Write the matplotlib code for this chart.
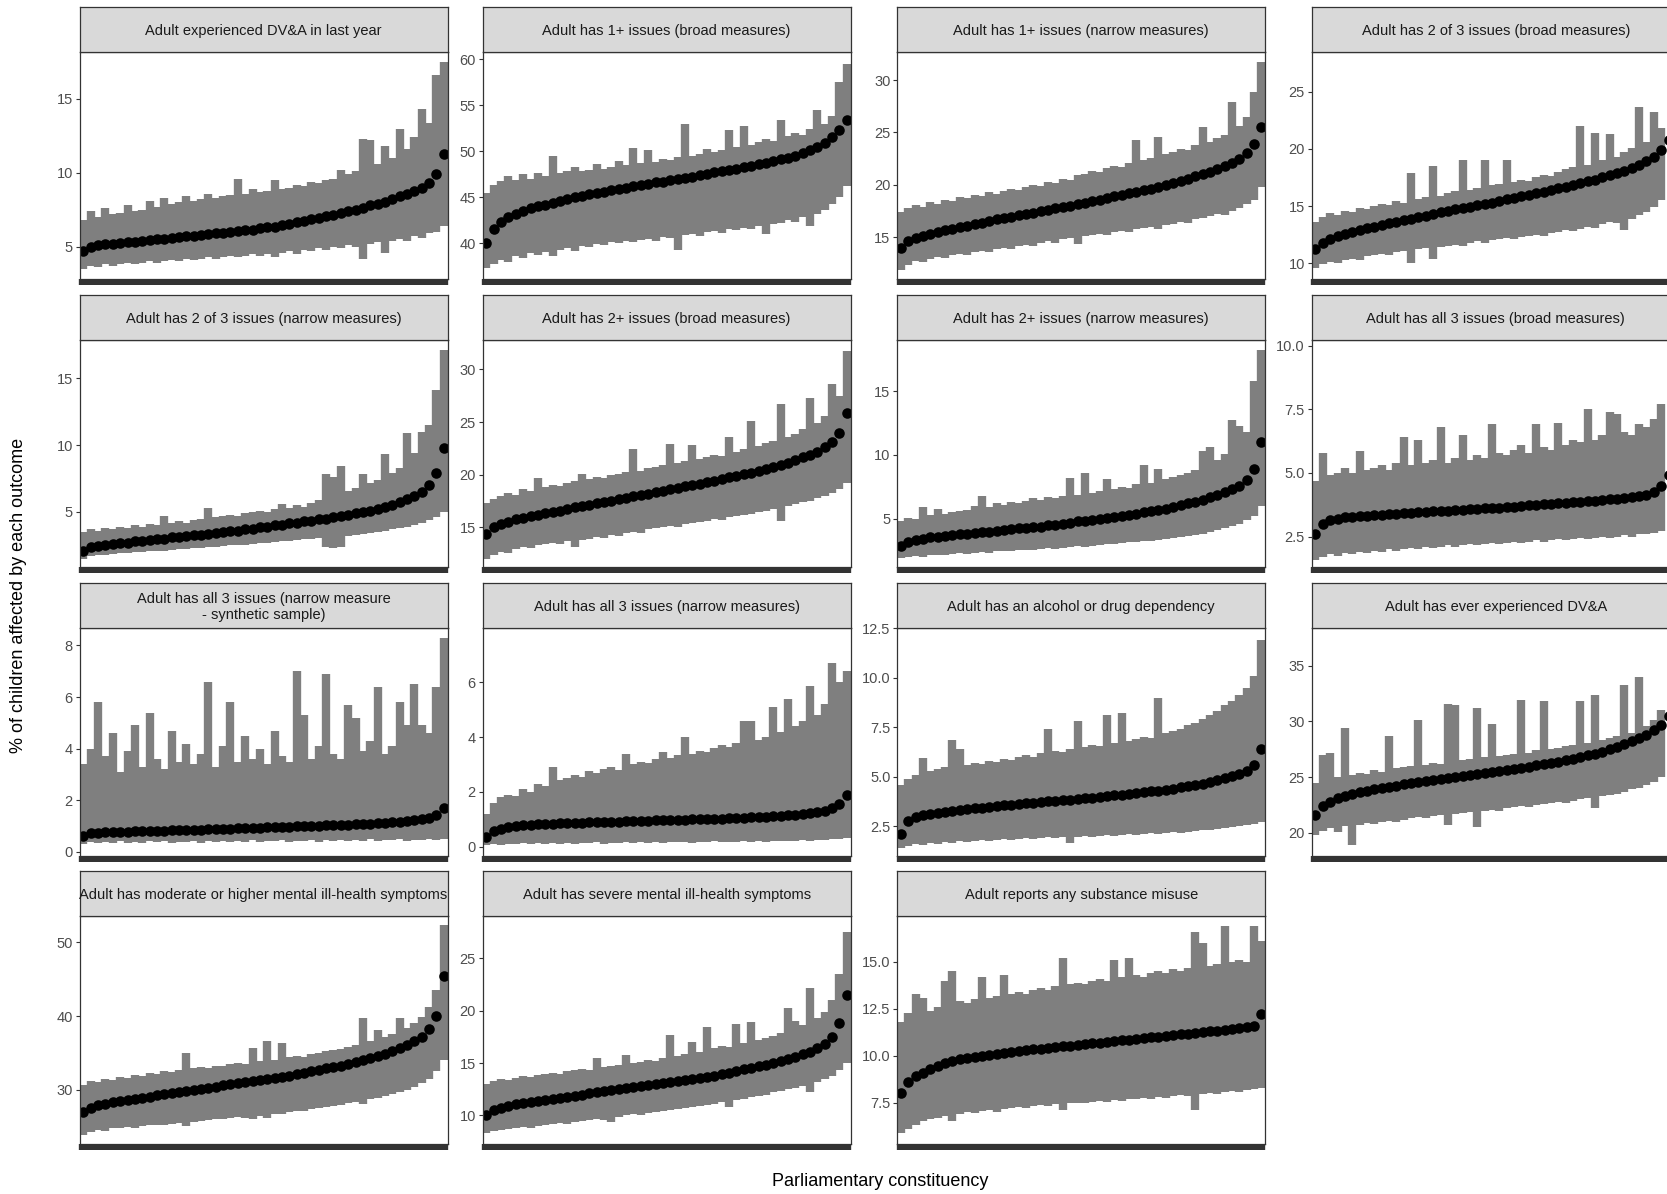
import matplotlib
matplotlib.use("Agg")
import matplotlib.pyplot as plt
import numpy as np

plt.rcParams['font.family'] = ['Liberation Sans', 'DejaVu Sans']

# Constituency estimates sorted low -> high, with lower/upper interval ends.
# 50 constituencies per outcome.
titles = [
    "Adult experienced DV&A in last year",
    "Adult has 1+ issues (broad measures)",
    "Adult has 1+ issues (narrow measures)",
    "Adult has 2 of 3 issues (broad measures)",
    "Adult has 2 of 3 issues (narrow measures)",
    "Adult has 2+ issues (broad measures)",
    "Adult has 2+ issues (narrow measures)",
    "Adult has all 3 issues (broad measures)",
    "Adult has all 3 issues (narrow measure\n- synthetic sample)",
    "Adult has all 3 issues (narrow measures)",
    "Adult has an alcohol or drug dependency",
    "Adult has ever experienced DV&A",
    "Adult has moderate or higher mental ill-health symptoms",
    "Adult has severe mental ill-health symptoms",
    "Adult reports any substance misuse",
]

est_dva_year = [4.7, 5.0, 5.1, 5.15, 5.2, 5.25, 5.3, 5.35, 5.4, 5.45, 5.5, 5.55, 5.6, 5.65, 5.7, 5.75, 5.8, 5.85, 5.9, 5.95,
                6.0, 6.05, 6.1, 6.15, 6.25, 6.3, 6.35, 6.45, 6.55, 6.65, 6.75, 6.85, 6.95, 7.05, 7.15, 7.25, 7.4, 7.5, 7.65, 7.8,
                7.9, 8.05, 8.2, 8.4, 8.55, 8.75, 9.0, 9.3, 9.9, 11.3]
lo_dva_year = [3.5, 3.7, 3.6, 3.8, 3.7, 3.8, 3.9, 3.8, 3.9, 4.0, 3.9, 4.0, 4.1, 4.0, 4.2, 4.1, 4.2, 4.3, 4.2, 4.3,
               4.4, 4.3, 4.4, 4.5, 4.4, 4.5, 4.3, 4.6, 4.7, 4.5, 4.8, 4.7, 4.9, 4.8, 5.0, 4.9, 5.1, 5.0, 4.2, 5.2,
               5.3, 4.6, 5.4, 5.5, 5.4, 5.7, 5.6, 5.9, 6.0, 6.4]
hi_dva_year = [6.8, 7.4, 7.0, 7.6, 7.2, 7.3, 7.8, 7.4, 7.5, 8.1, 7.7, 8.3, 7.9, 8.0, 8.4, 8.1, 8.2, 8.6, 8.3, 8.4,
               8.5, 9.6, 8.6, 8.9, 8.7, 8.8, 9.5, 8.9, 9.0, 9.2, 9.1, 9.4, 9.3, 9.5, 9.6, 10.2, 9.9, 10.1, 12.3, 12.2,
               10.6, 11.8, 11.0, 13.0, 11.6, 12.4, 14.3, 13.4, 16.6, 17.5]

est_any_broad = [40.0, 41.6, 42.3, 42.8, 43.2, 43.5, 43.8, 44.0, 44.2, 44.4, 44.6, 44.8, 45.0, 45.15, 45.3, 45.45, 45.6, 45.75, 45.9, 46.05,
                 46.2, 46.3, 46.45, 46.6, 46.7, 46.85, 47.0, 47.1, 47.25, 47.4, 47.55, 47.7, 47.8, 47.95, 48.1, 48.25, 48.4, 48.6, 48.75, 48.9,
                 49.1, 49.3, 49.5, 49.8, 50.1, 50.5, 50.9, 51.5, 52.3, 53.4]
lo_any_broad = [37.3, 37.8, 38.2, 38.0, 38.6, 38.4, 38.9, 38.7, 39.1, 38.6, 39.3, 39.5, 39.2, 39.7, 39.6, 39.9, 39.8, 40.1, 40.0, 40.3,
                40.1, 40.4, 40.5, 40.3, 40.7, 40.6, 39.3, 40.9, 41.0, 40.8, 41.2, 41.3, 41.1, 41.5, 41.4, 41.7, 41.6, 41.9, 41.0, 42.1,
                42.2, 42.5, 42.3, 42.8, 41.9, 43.2, 43.6, 44.3, 45.0, 46.2]
hi_any_broad = [45.5, 46.3, 46.8, 47.3, 46.9, 47.5, 47.0, 47.6, 47.3, 49.5, 47.6, 47.8, 48.3, 47.9, 48.0, 48.6, 48.1, 48.3, 48.9, 48.5,
                50.3, 48.7, 50.1, 48.8, 49.2, 49.0, 49.4, 52.9, 49.5, 49.7, 50.2, 49.9, 50.1, 52.3, 50.4, 52.7, 50.7, 51.0, 51.3, 51.1,
                53.4, 51.6, 52.0, 51.8, 52.4, 54.5, 53.0, 53.8, 57.5, 59.5]

est_any_narrow = [14.0, 14.6, 14.9, 15.1, 15.3, 15.5, 15.65, 15.8, 15.95, 16.1, 16.25, 16.4, 16.55, 16.7, 16.8, 16.95, 17.1, 17.2, 17.35, 17.5,
                  17.6, 17.75, 17.9, 18.0, 18.15, 18.3, 18.45, 18.6, 18.75, 18.9, 19.05, 19.2, 19.35, 19.5, 19.65, 19.8, 20.0, 20.2, 20.4, 20.6,
                  20.8, 21.0, 21.2, 21.5, 21.8, 22.1, 22.5, 23.0, 23.9, 25.5]
lo_any_narrow = [11.9, 12.4, 12.7, 12.6, 12.9, 13.1, 13.0, 13.3, 13.4, 13.3, 13.6, 13.7, 13.6, 13.9, 14.0, 13.9, 14.2, 14.3, 14.2, 14.5,
                 14.6, 14.5, 14.8, 14.9, 14.4, 15.1, 15.2, 15.3, 15.2, 15.5, 15.6, 15.5, 15.8, 15.9, 16.0, 15.8, 16.2, 16.3, 16.5, 16.4,
                 16.7, 16.8, 17.0, 17.2, 17.1, 17.5, 17.8, 18.2, 18.6, 19.8]
hi_any_narrow = [17.4, 17.8, 18.1, 17.9, 18.4, 18.2, 18.6, 18.5, 18.8, 18.7, 19.0, 18.9, 19.3, 19.1, 19.4, 19.6, 19.5, 19.8, 20.0, 19.9,
                 20.3, 20.2, 20.6, 20.5, 20.9, 21.0, 21.3, 21.2, 21.6, 21.8, 21.7, 22.1, 24.3, 22.4, 22.6, 24.6, 22.9, 23.1, 23.4, 23.3,
                 23.8, 25.5, 24.1, 24.5, 24.8, 27.9, 25.6, 26.5, 28.9, 31.7]

est_two3_broad = [11.2, 11.8, 12.1, 12.35, 12.55, 12.75, 12.9, 13.05, 13.2, 13.35, 13.5, 13.6, 13.75, 13.9, 14.05, 14.15, 14.3, 14.45, 14.55, 14.7,
                  14.8, 14.95, 15.05, 15.2, 15.3, 15.45, 15.6, 15.7, 15.85, 16.0, 16.1, 16.25, 16.4, 16.55, 16.7, 16.85, 17.0, 17.15, 17.3, 17.5,
                  17.7, 17.9, 18.1, 18.35, 18.6, 18.9, 19.3, 19.9, 20.8, 22.5]
lo_two3_broad = [9.6, 9.9, 10.1, 10.0, 10.3, 10.4, 10.3, 10.6, 10.7, 10.8, 10.7, 11.0, 11.1, 10.0, 11.2, 11.3, 10.4, 11.4, 11.5, 11.6,
                 11.5, 11.8, 11.9, 11.8, 12.0, 12.1, 12.2, 12.1, 12.3, 12.4, 12.5, 12.4, 12.6, 12.7, 12.9, 12.8, 13.0, 13.2, 13.1, 13.4,
                 13.6, 13.5, 12.9, 13.9, 14.2, 14.5, 14.9, 15.5, 16.5, 18.0]
hi_two3_broad = [13.6, 14.0, 14.4, 14.2, 14.6, 14.5, 14.8, 14.7, 15.0, 15.2, 15.1, 15.4, 15.3, 17.9, 15.6, 15.8, 18.5, 15.9, 16.1, 16.3,
                 19.0, 16.4, 16.6, 19.0, 16.8, 16.9, 19.0, 17.1, 17.3, 17.2, 17.5, 17.7, 17.6, 18.0, 18.2, 18.4, 22.0, 18.6, 21.4, 19.0,
                 21.3, 19.3, 19.7, 20.1, 23.7, 20.6, 23.2, 21.8, 23.5, 25.5]

est_two3_narrow = [2.1, 2.35, 2.45, 2.55, 2.6, 2.65, 2.7, 2.8, 2.85, 2.9, 2.95, 3.0, 3.1, 3.15, 3.2, 3.25, 3.3, 3.35, 3.45, 3.5,
                   3.55, 3.6, 3.7, 3.75, 3.85, 3.9, 4.0, 4.05, 4.15, 4.2, 4.3, 4.35, 4.45, 4.5, 4.6, 4.7, 4.8, 4.9, 5.0, 5.1,
                   5.25, 5.4, 5.55, 5.75, 5.95, 6.2, 6.5, 7.0, 7.9, 9.8]
lo_two3_narrow = [1.5, 1.7, 1.75, 1.8, 1.85, 1.9, 1.95, 2.0, 2.0, 2.05, 2.1, 2.1, 2.15, 2.2, 2.25, 2.3, 2.3, 2.35, 2.4, 2.45,
                  2.5, 2.5, 2.55, 2.6, 2.65, 2.7, 2.75, 2.8, 2.85, 2.9, 2.95, 3.0, 3.05, 2.4, 2.3, 2.4, 3.2, 3.3, 3.35, 3.4,
                  3.5, 3.6, 3.7, 3.8, 3.9, 4.0, 4.2, 4.4, 4.6, 5.0]
hi_two3_narrow = [3.5, 3.7, 3.6, 3.8, 3.7, 3.9, 3.8, 4.0, 3.9, 4.1, 4.0, 4.7, 4.2, 4.3, 4.2, 4.4, 4.5, 5.3, 4.6, 4.7,
                  4.8, 4.7, 4.9, 5.0, 5.1, 5.0, 5.2, 5.6, 5.3, 5.5, 5.4, 5.7, 5.9, 7.8, 7.6, 8.4, 6.6, 6.8, 7.8, 7.2,
                  7.4, 9.3, 7.9, 8.3, 10.9, 9.4, 11.0, 11.5, 14.1, 17.1]

est_twop_broad = [14.4, 15.0, 15.3, 15.55, 15.75, 15.9, 16.05, 16.2, 16.35, 16.5, 16.6, 16.75, 16.9, 17.0, 17.15, 17.3, 17.4, 17.55, 17.7, 17.8,
                  17.95, 18.1, 18.2, 18.35, 18.5, 18.6, 18.75, 18.9, 19.0, 19.15, 19.3, 19.45, 19.6, 19.75, 19.9, 20.05, 20.2, 20.4, 20.55, 20.75,
                  20.95, 21.15, 21.4, 21.65, 21.9, 22.2, 22.6, 23.1, 24.0, 25.9]
lo_twop_broad = [12.0, 12.4, 12.7, 12.6, 12.9, 13.1, 13.0, 13.3, 13.4, 13.5, 13.4, 13.7, 13.1, 13.8, 13.9, 14.1, 14.0, 14.3, 14.2, 14.5,
                 14.6, 14.5, 14.8, 14.9, 15.0, 15.1, 15.0, 15.3, 15.4, 15.5, 15.6, 15.8, 15.7, 16.0, 16.1, 16.2, 16.3, 16.5, 16.6, 16.7,
                 15.6, 17.0, 17.2, 17.4, 17.5, 17.8, 18.0, 18.3, 18.6, 19.2]
hi_twop_broad = [17.3, 17.7, 18.0, 18.3, 18.1, 18.6, 18.5, 19.7, 18.8, 19.0, 18.9, 19.2, 19.4, 20.1, 19.6, 19.8, 19.7, 20.0, 20.1, 20.3,
                 22.4, 20.4, 20.6, 20.7, 20.9, 22.9, 21.1, 21.3, 22.8, 21.5, 21.7, 21.9, 21.8, 23.6, 22.2, 22.4, 25.1, 22.7, 23.0, 23.2,
                 26.7, 23.6, 23.9, 24.3, 27.3, 24.9, 25.6, 28.6, 27.5, 31.7]

est_twop_narrow = [2.9, 3.2, 3.35, 3.45, 3.55, 3.6, 3.65, 3.7, 3.8, 3.85, 3.9, 3.95, 4.0, 4.05, 4.15, 4.2, 4.25, 4.3, 4.35, 4.4,
                   4.5, 4.55, 4.6, 4.7, 4.8, 4.85, 4.9, 5.0, 5.05, 5.15, 5.2, 5.3, 5.4, 5.5, 5.6, 5.7, 5.8, 5.9, 6.05, 6.2,
                   6.35, 6.5, 6.7, 6.9, 7.1, 7.3, 7.6, 8.0, 8.9, 11.0]
lo_twop_narrow = [1.9, 2.0, 2.1, 2.05, 2.15, 2.2, 2.15, 2.25, 2.3, 2.25, 2.35, 2.4, 2.35, 2.45, 2.5, 2.45, 2.55, 2.6, 2.55, 2.65,
                  2.7, 2.65, 2.75, 2.8, 2.85, 2.8, 2.9, 2.95, 3.0, 3.05, 3.1, 3.15, 3.2, 3.25, 3.3, 3.35, 3.45, 3.5, 3.6, 3.65,
                  3.75, 3.85, 4.0, 4.1, 4.3, 4.45, 4.6, 4.9, 5.2, 6.0]
hi_twop_narrow = [4.8, 5.1, 5.0, 5.9, 5.3, 5.8, 5.4, 5.5, 5.6, 5.7, 6.0, 6.8, 5.9, 6.2, 6.1, 6.3, 6.2, 6.4, 6.6, 6.5,
                  6.7, 6.6, 6.8, 8.2, 6.9, 8.6, 7.0, 7.2, 8.1, 7.3, 7.5, 7.4, 7.7, 9.2, 7.8, 8.9, 8.1, 8.3, 8.4, 8.6,
                  8.8, 10.3, 10.6, 9.6, 10.1, 12.7, 12.3, 11.8, 15.8, 18.2]

est_all3_broad = [2.6, 3.0, 3.15, 3.2, 3.25, 3.28, 3.3, 3.32, 3.34, 3.36, 3.38, 3.4, 3.42, 3.44, 3.46, 3.48, 3.5, 3.51, 3.52, 3.54,
                  3.56, 3.58, 3.6, 3.61, 3.62, 3.64, 3.66, 3.68, 3.7, 3.72, 3.74, 3.76, 3.78, 3.8, 3.82, 3.84, 3.86, 3.88, 3.9, 3.93,
                  3.96, 3.99, 4.02, 4.06, 4.1, 4.15, 4.25, 4.5, 4.9, 5.6]
lo_all3_broad = [1.6, 1.7, 1.8, 1.75, 1.85, 1.8, 1.9, 1.85, 1.95, 1.9, 2.0, 1.95, 2.0, 2.05, 2.0, 2.1, 2.05, 2.1, 2.15, 2.1,
                 2.15, 2.2, 2.15, 2.2, 2.25, 2.2, 2.25, 2.3, 2.25, 2.3, 2.35, 2.3, 2.35, 2.4, 2.35, 2.4, 2.45, 2.4, 2.45, 2.5,
                 2.45, 2.5, 2.55, 2.5, 2.6, 2.6, 2.65, 2.7, 2.8, 3.0]
hi_all3_broad = [4.7, 5.8, 4.9, 5.0, 5.2, 5.0, 5.85, 5.1, 5.2, 5.3, 5.1, 5.4, 6.4, 5.3, 6.3, 5.4, 5.5, 6.8, 5.4, 5.6,
                 6.5, 5.5, 5.7, 5.6, 6.9, 5.8, 5.7, 5.9, 6.1, 5.8, 6.9, 6.0, 5.9, 6.95, 6.1, 6.3, 6.2, 7.5, 6.3, 6.5,
                 7.4, 7.3, 6.6, 6.5, 6.9, 6.8, 7.1, 7.7, 7.3, 8.2]

est_all3_synth = [0.6, 0.72, 0.75, 0.76, 0.77, 0.78, 0.79, 0.8, 0.8, 0.81, 0.82, 0.83, 0.84, 0.85, 0.85, 0.86, 0.87, 0.88, 0.89, 0.9,
                  0.9, 0.91, 0.92, 0.93, 0.94, 0.95, 0.96, 0.97, 0.98, 0.99, 1.0, 1.01, 1.02, 1.03, 1.04, 1.05, 1.06, 1.07, 1.08, 1.1,
                  1.11, 1.13, 1.15, 1.17, 1.19, 1.22, 1.26, 1.32, 1.42, 1.7]
lo_all3_synth = [0.3, 0.38, 0.33, 0.4, 0.35, 0.42, 0.36, 0.4, 0.34, 0.41, 0.37, 0.43, 0.35, 0.4, 0.38, 0.44, 0.36, 0.41, 0.39, 0.43,
                 0.37, 0.42, 0.4, 0.45, 0.38, 0.43, 0.41, 0.46, 0.39, 0.44, 0.42, 0.47, 0.4, 0.45, 0.43, 0.48, 0.41, 0.46, 0.44, 0.49,
                 0.42, 0.47, 0.45, 0.5, 0.44, 0.48, 0.46, 0.5, 0.47, 0.52]
hi_all3_synth = [3.4, 4.0, 5.8, 3.7, 4.6, 3.1, 3.9, 4.9, 3.3, 5.4, 3.6, 3.2, 4.7, 3.5, 4.2, 3.4, 3.8, 6.6, 3.3, 4.1,
                 5.8, 3.5, 4.5, 3.6, 4.0, 3.4, 4.7, 3.7, 3.5, 7.0, 5.3, 3.6, 4.1, 6.9, 3.8, 3.6, 5.7, 5.2, 3.9, 4.3,
                 6.4, 3.8, 4.1, 5.8, 4.9, 6.5, 4.9, 4.6, 6.4, 8.3]

est_all3_narrow = [0.35, 0.58, 0.66, 0.72, 0.75, 0.78, 0.8, 0.82, 0.83, 0.84, 0.85, 0.86, 0.87, 0.88, 0.89, 0.9, 0.9, 0.91, 0.92, 0.93,
                   0.93, 0.94, 0.95, 0.96, 0.96, 0.97, 0.98, 0.99, 1.0, 1.0, 1.01, 1.02, 1.03, 1.04, 1.05, 1.06, 1.07, 1.08, 1.1, 1.11,
                   1.13, 1.15, 1.17, 1.2, 1.23, 1.27, 1.32, 1.4, 1.55, 1.9]
lo_all3_narrow = [0.05, 0.1, 0.08, 0.12, 0.1, 0.14, 0.11, 0.13, 0.1, 0.15, 0.12, 0.14, 0.11, 0.15, 0.13, 0.16, 0.12, 0.15, 0.14, 0.17,
                  0.13, 0.16, 0.15, 0.18, 0.14, 0.17, 0.16, 0.19, 0.15, 0.18, 0.17, 0.2, 0.16, 0.19, 0.18, 0.2, 0.17, 0.21, 0.19, 0.22,
                  0.2, 0.23, 0.21, 0.24, 0.22, 0.25, 0.24, 0.27, 0.28, 0.32]
hi_all3_narrow = [1.2, 1.6, 1.8, 1.9, 1.85, 2.1, 2.0, 2.3, 2.2, 2.9, 2.45, 2.5, 2.6, 2.55, 2.75, 2.7, 2.85, 2.9, 2.8, 3.4,
                  3.0, 3.1, 3.05, 3.2, 3.45, 3.25, 3.35, 4.0, 3.4, 3.5, 3.45, 3.6, 3.7, 3.65, 3.8, 4.6, 4.6, 3.9, 4.0, 5.1,
                  4.2, 5.4, 4.4, 4.6, 5.85, 4.8, 5.2, 6.7, 6.0, 6.4]

est_alc_drug = [2.1, 2.75, 2.95, 3.05, 3.12, 3.18, 3.23, 3.28, 3.32, 3.36, 3.4, 3.44, 3.48, 3.51, 3.55, 3.58, 3.62, 3.65, 3.68, 3.72,
                3.75, 3.78, 3.82, 3.85, 3.88, 3.92, 3.95, 3.99, 4.02, 4.06, 4.1, 4.14, 4.18, 4.22, 4.26, 4.3, 4.35, 4.4, 4.46, 4.52,
                4.58, 4.65, 4.73, 4.82, 4.92, 5.03, 5.15, 5.3, 5.6, 6.4]
lo_alc_drug = [1.4, 1.5, 1.6, 1.55, 1.65, 1.6, 1.7, 1.65, 1.75, 1.7, 1.75, 1.8, 1.75, 1.8, 1.85, 1.8, 1.85, 1.9, 1.85, 1.9,
               1.95, 1.9, 1.95, 1.65, 1.95, 2.0, 1.95, 2.0, 2.05, 2.0, 2.05, 2.1, 2.05, 2.1, 2.15, 2.1, 2.15, 2.2, 2.15, 2.2,
               2.25, 2.3, 2.3, 2.35, 2.4, 2.45, 2.5, 2.55, 2.6, 2.7]
hi_alc_drug = [4.6, 4.9, 5.1, 5.95, 5.3, 5.4, 5.5, 6.87, 6.4, 5.6, 5.7, 5.65, 5.8, 5.75, 5.9, 5.85, 6.0, 6.1, 6.0, 6.2,
               7.4, 6.3, 6.25, 6.4, 7.8, 6.5, 6.6, 6.55, 8.1, 6.7, 8.2, 6.8, 6.9, 7.0, 6.95, 8.97, 7.2, 7.3, 7.4, 7.6,
               7.7, 7.9, 8.1, 8.3, 8.6, 8.8, 9.1, 9.5, 10.1, 11.9]

est_dva_ever = [21.6, 22.4, 22.8, 23.1, 23.3, 23.5, 23.65, 23.8, 23.95, 24.05, 24.15, 24.25, 24.35, 24.45, 24.55, 24.65, 24.75, 24.85, 24.9, 25.0,
                25.1, 25.2, 25.3, 25.4, 25.45, 25.55, 25.65, 25.75, 25.85, 25.95, 26.05, 26.15, 26.3, 26.4, 26.5, 26.65, 26.8, 26.95, 27.1, 27.3,
                27.5, 27.7, 27.95, 28.2, 28.5, 28.8, 29.2, 29.7, 30.5, 32.0]
lo_dva_ever = [19.8, 20.2, 20.4, 20.1, 20.6, 18.9, 20.7, 20.9, 20.8, 21.0, 21.1, 21.0, 21.2, 21.3, 21.4, 21.3, 21.5, 21.6, 20.7, 21.7,
               21.8, 21.9, 20.5, 22.0, 22.1, 22.0, 22.2, 22.3, 22.4, 22.3, 22.5, 22.6, 22.7, 22.8, 22.7, 22.9, 23.0, 23.1, 22.2, 23.3,
               23.4, 23.5, 23.7, 23.9, 24.0, 24.3, 24.6, 25.0, 25.5, 26.5]
hi_dva_ever = [24.5, 27.0, 27.2, 25.0, 29.4, 25.2, 25.4, 25.3, 25.6, 25.5, 28.7, 25.8, 25.9, 26.0, 30.1, 26.1, 26.3, 26.2, 31.6, 31.5,
               26.5, 26.6, 31.2, 26.8, 29.8, 26.9, 27.0, 27.1, 31.9, 27.2, 27.4, 31.8, 27.5, 27.6, 27.8, 27.9, 31.8, 28.1, 32.4, 28.3,
               28.5, 28.7, 33.3, 29.0, 34.0, 29.6, 30.1, 31.0, 33.3, 35.5]

est_mh_moderate = [27.0, 27.6, 27.9, 28.1, 28.3, 28.5, 28.65, 28.8, 28.95, 29.1, 29.25, 29.4, 29.55, 29.7, 29.85, 30.0, 30.15, 30.3, 30.45, 30.6,
                   30.75, 30.9, 31.05, 31.2, 31.3, 31.45, 31.6, 31.75, 31.9, 32.1, 32.3, 32.5, 32.7, 32.9, 33.1, 33.3, 33.5, 33.75, 34.0, 34.3,
                   34.6, 34.9, 35.3, 35.7, 36.1, 36.6, 37.2, 38.2, 40.0, 45.4]
lo_mh_moderate = [23.9, 24.3, 24.6, 24.5, 24.8, 24.9, 25.0, 24.9, 25.1, 25.2, 25.3, 25.2, 25.4, 25.5, 25.1, 25.7, 25.8, 25.9, 26.0, 26.1,
                  26.2, 26.3, 26.2, 26.0, 26.5, 26.2, 26.7, 26.8, 27.0, 27.1, 27.2, 27.4, 27.5, 27.7, 27.8, 28.0, 28.2, 28.3, 28.1, 28.7,
                  28.9, 29.2, 29.4, 29.7, 30.0, 30.4, 30.9, 31.5, 32.5, 34.0]
hi_mh_moderate = [30.6, 31.2, 31.0, 31.5, 31.3, 31.8, 31.6, 32.0, 31.9, 32.3, 32.1, 32.5, 32.4, 32.7, 35.0, 32.9, 33.1, 33.0, 33.3, 33.2,
                  33.5, 33.6, 33.5, 35.7, 33.9, 36.6, 34.1, 36.4, 34.4, 34.6, 34.5, 34.8, 35.0, 35.2, 35.4, 35.6, 35.8, 36.1, 39.7, 36.6,
                  38.1, 37.2, 37.6, 39.7, 38.4, 39.0, 39.8, 41.2, 43.5, 52.3]

est_mh_severe = [10.0, 10.5, 10.75, 10.9, 11.05, 11.2, 11.3, 11.4, 11.5, 11.6, 11.7, 11.8, 11.9, 12.0, 12.1, 12.2, 12.3, 12.4, 12.5, 12.6,
                 12.7, 12.8, 12.9, 13.0, 13.1, 13.2, 13.3, 13.4, 13.5, 13.6, 13.7, 13.8, 13.95, 14.1, 14.25, 14.4, 14.55, 14.7, 14.85, 15.0,
                 15.2, 15.4, 15.6, 15.85, 16.1, 16.4, 16.8, 17.5, 18.8, 21.5]
lo_mh_severe = [8.3, 8.5, 8.6, 8.7, 8.8, 8.9, 8.8, 9.0, 9.1, 9.2, 9.3, 9.2, 9.4, 9.5, 9.6, 9.7, 9.6, 9.4, 9.9, 10.0,
                10.1, 10.0, 10.2, 10.3, 10.4, 10.5, 10.6, 10.7, 10.8, 10.9, 11.0, 11.1, 11.3, 10.8, 11.5, 11.6, 11.8, 11.9, 12.0, 12.2,
                12.3, 12.5, 12.6, 12.8, 12.2, 13.2, 13.5, 13.8, 14.3, 15.0]
hi_mh_severe = [13.0, 13.3, 13.5, 13.4, 13.6, 13.8, 13.7, 13.9, 14.0, 14.1, 14.0, 14.2, 14.3, 14.4, 14.3, 15.5, 14.6, 14.7, 14.8, 15.8,
                15.0, 15.1, 15.3, 15.2, 15.5, 17.7, 15.7, 15.9, 17.0, 16.1, 18.4, 16.4, 16.6, 16.5, 18.7, 16.9, 18.9, 17.2, 17.4, 17.6,
                17.9, 20.3, 19.0, 18.6, 22.2, 19.3, 19.9, 21.0, 23.5, 27.5]

est_substance = [8.0, 8.6, 8.9, 9.1, 9.3, 9.45, 9.6, 9.7, 9.8, 9.88, 9.95, 10.0, 10.05, 10.1, 10.15, 10.2, 10.25, 10.3, 10.34, 10.38,
                 10.42, 10.46, 10.5, 10.54, 10.58, 10.62, 10.66, 10.7, 10.74, 10.78, 10.82, 10.86, 10.9, 10.94, 10.98, 11.02, 11.06, 11.1, 11.14, 11.18,
                 11.22, 11.26, 11.3, 11.34, 11.38, 11.42, 11.46, 11.52, 11.6, 12.2]
lo_substance = [5.9, 6.1, 6.3, 6.5, 6.6, 6.7, 6.8, 6.5, 6.9, 7.0, 6.95, 7.05, 7.1, 7.0, 7.15, 7.2, 7.25, 7.2, 7.3, 7.35,
                7.3, 7.4, 7.1, 7.45, 7.5, 7.45, 7.55, 7.6, 7.55, 7.65, 7.6, 7.7, 7.7, 7.75, 7.7, 7.8, 7.75, 7.85, 7.9, 7.85,
                7.1, 7.95, 8.0, 7.95, 8.05, 8.1, 8.05, 8.15, 8.2, 8.3]
hi_substance = [11.8, 12.3, 13.3, 13.1, 12.4, 12.6, 14.0, 14.5, 12.9, 12.8, 13.0, 14.2, 13.1, 13.2, 14.3, 13.3, 13.4, 13.3, 13.5, 13.6,
                13.5, 13.7, 15.2, 13.8, 13.9, 13.8, 14.0, 14.1, 14.0, 15.1, 14.2, 15.2, 14.3, 14.2, 14.4, 14.5, 14.4, 14.6, 14.5, 14.7,
                16.6, 16.0, 14.8, 14.9, 16.9, 15.0, 15.1, 15.0, 16.9, 16.1]

estimates = [est_dva_year, est_any_broad, est_any_narrow, est_two3_broad, est_two3_narrow,
             est_twop_broad, est_twop_narrow, est_all3_broad, est_all3_synth, est_all3_narrow,
             est_alc_drug, est_dva_ever, est_mh_moderate, est_mh_severe, est_substance]
lowers = [lo_dva_year, lo_any_broad, lo_any_narrow, lo_two3_broad, lo_two3_narrow,
          lo_twop_broad, lo_twop_narrow, lo_all3_broad, lo_all3_synth, lo_all3_narrow,
          lo_alc_drug, lo_dva_ever, lo_mh_moderate, lo_mh_severe, lo_substance]
uppers = [hi_dva_year, hi_any_broad, hi_any_narrow, hi_two3_broad, hi_two3_narrow,
          hi_twop_broad, hi_twop_narrow, hi_all3_broad, hi_all3_synth, hi_all3_narrow,
          hi_alc_drug, hi_dva_ever, hi_mh_moderate, hi_mh_severe, hi_substance]

# free y scales per facet
y_ticks = [[5, 10, 15], [40, 45, 50, 55, 60], [15, 20, 25, 30], [10, 15, 20, 25],
           [5, 10, 15], [15, 20, 25, 30], [5, 10, 15], [2.5, 5.0, 7.5, 10.0],
           [0, 2, 4, 6, 8], [0, 2, 4, 6], [2.5, 5.0, 7.5, 10.0, 12.5], [20, 25, 30, 35],
           [30, 40, 50], [10, 15, 20, 25], [7.5, 10.0, 12.5, 15.0]]
y_ranges = [(2.8, 18.2), (36.1, 60.8), (11.0, 32.7), (8.6, 28.5),
            (0.86, 17.85), (11.2, 32.8), (1.2, 19.0), (1.29, 10.22),
            (-0.14, 8.67), (-0.32, 7.97), (1.02, 12.5), (17.97, 38.36),
            (22.7, 53.5), (7.3, 29.0), (5.3, 17.43)]

# ---- layout (pixels of a 1667 x 1194 canvas); the 4th column runs off the right edge
W, H = 1667, 1194
col_left = [79.7, 482.7, 897.3, 1311.8]
row_top = [6.7, 294.9, 583.1, 871.3]
panel_w, strip_h, panel_h = 367.8, 45.0, 227.5

dark = '#333333'
fig = plt.figure(figsize=(W / 100, H / 100), dpi=100)

for k, title in enumerate(titles):
    r, c = divmod(k, 4)
    x0 = col_left[c] / W
    top = row_top[r]
    ax = fig.add_axes([x0, 1 - (top + strip_h + panel_h) / H, panel_w / W, panel_h / H])
    sax = fig.add_axes([x0, 1 - (top + strip_h) / H, panel_w / W, strip_h / H])

    est = np.array(estimates[k])
    x = np.arange(len(est))
    ax.vlines(x, lowers[k], uppers[k], color='#7F7F7F', linewidth=6, zorder=1)
    ax.scatter(x, est, s=58, color='black', linewidths=0, zorder=2)

    ax.set_xlim(-0.5, len(est) - 0.5)
    ax.set_ylim(*y_ranges[k])
    ticks = y_ticks[k]
    ax.set_yticks(ticks)
    if any(t != int(t) for t in ticks):
        ax.set_yticklabels([f"{t:.1f}" for t in ticks])
    else:
        ax.set_yticklabels([str(int(t)) for t in ticks])
    # one tick per constituency -> the dark band under each panel
    ax.set_xticks(x)
    ax.set_xticklabels([])
    ax.tick_params(axis='x', length=4.5, width=6, color=dark)
    ax.tick_params(axis='y', length=3, width=0.8, color=dark, labelcolor='#4D4D4D',
                   labelsize=10.5, pad=2)
    for sp in ax.spines.values():
        sp.set_color(dark)
        sp.set_linewidth(0.9)

    sax.set_facecolor('#D9D9D9')
    sax.set_xticks([])
    sax.set_yticks([])
    for sp in sax.spines.values():
        sp.set_color(dark)
        sp.set_linewidth(0.9)
    sax.text(0.5, 0.47, title, ha='center', va='center', fontsize=10.5,
             color='#1A1A1A', linespacing=1.15, transform=sax.transAxes)

fig.text(19 / W, 1 - 595 / H, '% of children affected by each outcome', rotation=90,
         ha='center', va='center', fontsize=13)
fig.text(880 / W, 1 - 1181 / H, 'Parliamentary constituency', ha='center', va='center', fontsize=13)

fig.savefig('out.png', dpi=100)
